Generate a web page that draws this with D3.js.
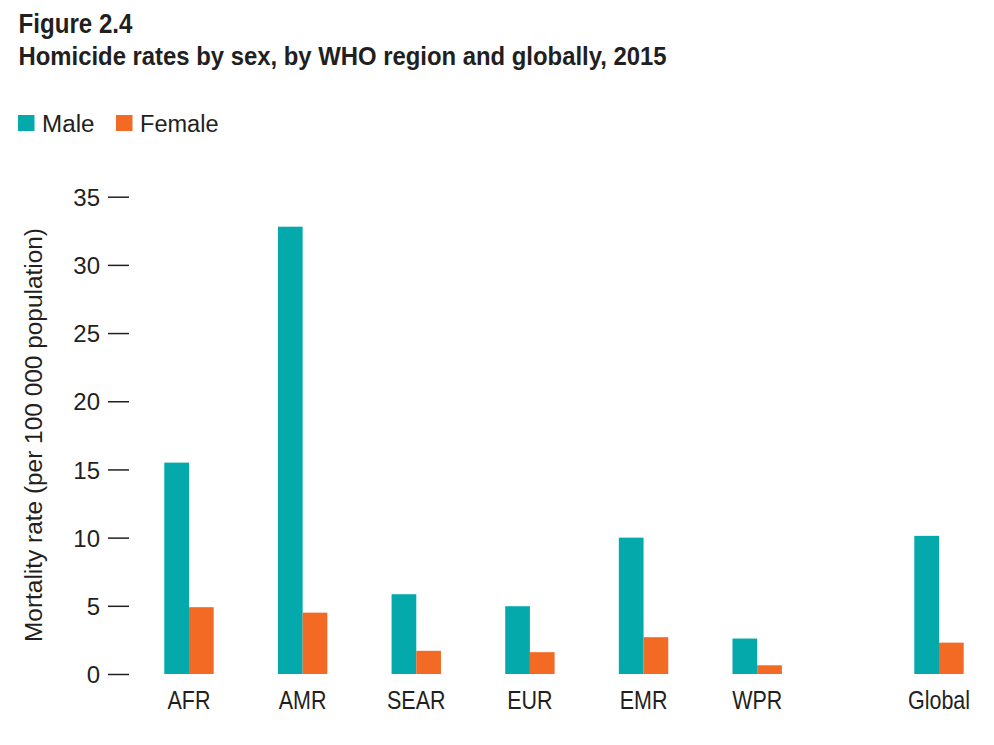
<!DOCTYPE html>
<html><head><meta charset="utf-8">
<script src="https://cdn.jsdelivr.net/npm/d3@7"></script>
<style>
body{margin:0;background:#fff;}
svg text{font-family:"Liberation Sans",Arial,Helvetica,sans-serif;fill:#231f20;}
</style></head>
<body><svg id="c" width="994" height="745"></svg>
<script>
const categories = ["AFR","AMR","SEAR","EUR","EMR","WPR","Global"];
const maleValues = [15.5, 32.8, 5.85, 4.97, 10.0, 2.6, 10.13];
const femaleValues = [4.9, 4.5, 1.7, 1.6, 2.7, 0.64, 2.3];
const seriesNames = ["Male","Female"];
const seriesColors = ["#03a9ab","#f26a24"];
const yTicks = [0,5,10,15,20,25,30,35];
const titleLines = ["Figure 2.4","Homicide rates by sex, by WHO region and globally, 2015"];
const yTitle = "Mortality rate (per 100 000 population)";

const globalGap = 0.6;
const condense = 0.86;
const svg = d3.select("#c");
const slot = categories.map((c,i)=> i + (c==="Global"?globalGap:0));
const x = d3.scaleLinear().domain([0, 6 + globalGap]).range([164.3, 914.3]);
const y = d3.scaleLinear().domain([0,35]).range([674, 196.7]);
const bw = 24.7;

// titles
svg.append("text").attr("x",18.5).attr("y",32.5).attr("font-size",27).attr("font-weight","bold")
  .attr("textLength",114).attr("lengthAdjust","spacingAndGlyphs").text(titleLines[0]);
svg.append("text").attr("x",18.5).attr("y",65).attr("font-size",26).attr("font-weight","bold")
  .attr("textLength",648).attr("lengthAdjust","spacingAndGlyphs").text(titleLines[1]);

// legend
const lg = svg.append("g");
const legX = [18, 116];
const legLen = [52.5, 78.5];
seriesNames.forEach((n,i)=>{
  lg.append("rect").attr("x",legX[i]).attr("y",115).attr("width",16.5).attr("height",16).attr("fill",seriesColors[i]);
  lg.append("text").attr("x",legX[i]+24).attr("y",131.7).attr("font-size",23.5)
    .attr("textLength",legLen[i]).attr("lengthAdjust","spacingAndGlyphs").text(n);
});

// y axis
const yAxis = d3.axisLeft(y).tickValues(yTicks).tickSize(21).tickPadding(8).tickFormat(d3.format("d"));
const ya = svg.append("g").attr("transform","translate(129,0)").call(yAxis);
ya.select(".domain").remove();
ya.selectAll(".tick line").attr("stroke","#231f20").attr("stroke-width",1.5);
ya.selectAll(".tick text").attr("font-size",24).attr("fill","#231f20").attr("font-family",null).attr("dy","0.36em");

svg.append("text").attr("transform","translate(42,435) rotate(-90)").attr("text-anchor","middle")
  .attr("font-size",23.5).attr("textLength",414).attr("lengthAdjust","spacingAndGlyphs").text(yTitle);

// bars
const data = categories.map((c,i)=>({c, s:slot[i], m:maleValues[i], f:femaleValues[i]}));
svg.append("g").selectAll("rect").data(data).join("rect")
  .attr("x",d=>x(d.s)).attr("width",bw).attr("y",d=>y(d.m)).attr("height",d=>y(0)-y(d.m)).attr("fill",seriesColors[0]);
svg.append("g").selectAll("rect").data(data).join("rect")
  .attr("x",d=>x(d.s)+bw).attr("width",bw).attr("y",d=>y(d.f)).attr("height",d=>y(0)-y(d.f)).attr("fill",seriesColors[1]);

// x labels
svg.append("g").selectAll("text").data(data).join("text")
  .attr("transform",d=>`translate(${x(d.s)+bw},708.5) scale(${condense},1)`)
  .attr("text-anchor","middle").attr("font-size",25).text(d=>d.c);
</script></body></html>
